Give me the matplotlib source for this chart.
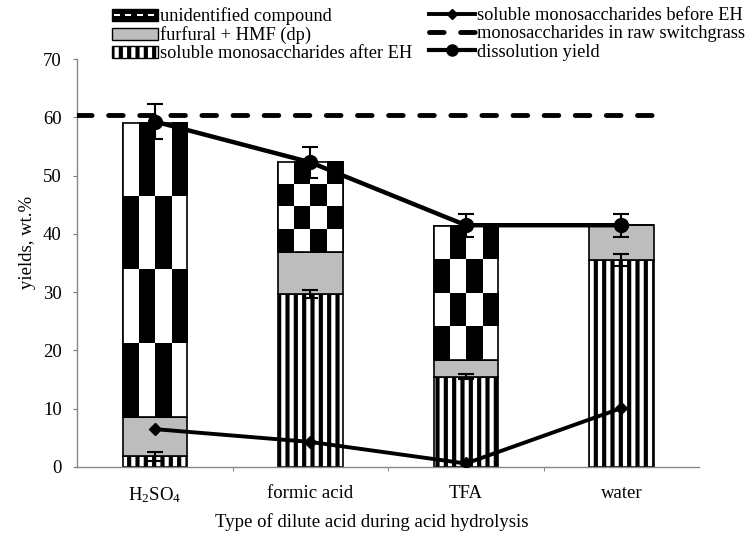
import matplotlib
matplotlib.use("Agg")
import matplotlib.pyplot as plt
import numpy as np
from matplotlib.patches import Patch, Rectangle
from matplotlib.lines import Line2D
from matplotlib.legend_handler import HandlerBase

plt.rcParams['font.family'] = ['Liberation Serif', 'DejaVu Serif']
plt.rcParams['mathtext.fontset'] = 'custom'
plt.rcParams['mathtext.rm'] = 'Liberation Serif'
plt.rcParams['mathtext.it'] = 'Liberation Serif:italic'
plt.rcParams['mathtext.default'] = 'regular'
plt.rcParams['hatch.linewidth'] = 3.0

# ---------------- data ----------------
categories = [r'H$_2$SO$_4$', 'formic acid', 'TFA', 'water']
sugars_after_EH = [1.8, 29.7, 15.5, 35.5]
sugars_after_EH_err = [0.8, 0.7, 0.4, 1.0]
furfural_hmf = [6.8, 7.2, 2.9, 6.0]
unidentified = [50.5, 15.5, 23.0, 0.0]
dissolution_yield = [59.3, 52.3, 41.5, 41.5]
dissolution_err = [3.0, 2.7, 2.0, 2.0]
sugars_before_EH = [6.5, 4.3, 0.6, 10.1]
raw_switchgrass = 60.5

yticks = [0, 10, 20, 30, 40, 50, 60, 70]

# ---------------- figure ----------------
fig = plt.figure(figsize=(7.55, 5.38), dpi=100)
ax = fig.add_axes([0.102, 0.132, 0.824, 0.758])

x = np.arange(len(categories))
w = 0.415
after = np.array(sugars_after_EH)
furf = np.array(furfural_hmf)
unid = np.array(unidentified)

ax.bar(x, after, w, color='white', edgecolor='black', hatch='||', linewidth=1.2, zorder=2)
ax.bar(x, furf, w, bottom=after, color='#bdbdbd', edgecolor='black', linewidth=1.2, zorder=2)
b3 = ax.bar(x, unid, w, bottom=after + furf, color='white', edgecolor='black', linewidth=1.2, zorder=2)

# checkerboard pattern inside the "unidentified" segments
checker = (np.indices((4, 4)).sum(axis=0) % 2 == 0).astype(float)
for rect in b3:
    h = rect.get_height()
    if h <= 0:
        continue
    x0 = rect.get_x()
    y0 = rect.get_y()
    ax.imshow(checker, cmap='gray', vmin=0, vmax=1,
              extent=[x0, x0 + rect.get_width(), y0, y0 + h],
              aspect='auto', interpolation='nearest', zorder=2.5)
    ax.add_patch(Rectangle((x0, y0), rect.get_width(), h, fill=False,
                           edgecolor='black', linewidth=1.2, zorder=2.6))

# error bars on sugars after EH
ax.errorbar(x, after, yerr=sugars_after_EH_err, fmt='none', ecolor='black',
            elinewidth=1.5, capsize=6, capthick=1.5, zorder=4)

# dissolution yield line
ax.errorbar(x, dissolution_yield, yerr=dissolution_err, fmt='-o', color='black',
            lw=3.2, ms=10, elinewidth=1.5, capsize=6, capthick=1.5, zorder=5)

# sugars before EH
ax.plot(x, sugars_before_EH, '-D', color='black', lw=2.8, ms=6.5, zorder=5)

# raw switchgrass monosaccharides
ax.plot([-0.5, 3.22], [raw_switchgrass, raw_switchgrass], color='black',
        lw=3.5, dashes=(3.0, 3.4), dash_capstyle='round', zorder=5)

ax.set_xlim(-0.5, 3.5)
ax.set_ylim(0, 70)
ax.set_yticks(yticks)
ax.set_xticks(x)
ax.set_xticklabels(categories, fontsize=13.5)
ax.set_xticks([0.5, 1.5, 2.5], minor=True)
ax.tick_params(axis='x', which='major', length=0, pad=13)
ax.tick_params(axis='x', which='minor', length=3, color='#777777')
ax.tick_params(axis='y', length=3, color='#777777', labelsize=13.5, pad=8)
for s in ['top', 'right']:
    ax.spines[s].set_visible(False)
for s in ['left', 'bottom']:
    ax.spines[s].set_color('#888888')
    ax.spines[s].set_linewidth(1.0)

ax.set_ylabel('yields, wt.%', fontsize=13.5)
ax.yaxis.set_label_coords(-0.066, 0.55)
ax.set_xlabel('Type of dilute acid during acid hydrolysis', fontsize=13.5)
ax.xaxis.set_label_coords(0.473, -0.113)


# ---------------- legends ----------------
class CheckerHandler(HandlerBase):
    def create_artists(self, legend, orig_handle, xdescent, ydescent, width, height, fontsize, trans):
        arts = [Rectangle((-xdescent, -ydescent), width, height, facecolor='black',
                          edgecolor='black', lw=1, transform=trans)]
        n = 4
        for i in range(n):
            xx = -xdescent + width * (i + 0.15) / n
            arts.append(Rectangle((xx, -ydescent + height * 0.4), width * 0.5 / n, height * 0.2,
                                  facecolor='white', edgecolor='none', transform=trans))
        return arts


h_unid = Patch(facecolor='black', edgecolor='black', label='unidentified compound')
h_furf = Patch(facecolor='#bdbdbd', edgecolor='black', label='furfural + HMF (dp)')
h_after = Patch(facecolor='white', edgecolor='black', hatch='||', label='soluble monosaccharides after EH')

fig.legend(handles=[h_unid, h_furf, h_after],
           handler_map={h_unid: CheckerHandler()},
           loc='upper left', bbox_to_anchor=(0.139, 1.0), frameon=False,
           fontsize=13.2, handlelength=2.5, handleheight=0.6,
           handletextpad=0.12, labelspacing=0.06, borderaxespad=0.1, borderpad=0.3)

h_before = Line2D([], [], color='black', lw=2.8, marker='D', ms=5, label='soluble monosaccharides before EH')
h_raw = Line2D([], [], color='black', lw=3.5, dashes=(3.0, 3.4), dash_capstyle='round',
               label='monosaccharides in raw switchgrass')
h_diss = Line2D([], [], color='black', lw=3.0, marker='o', ms=8, label='dissolution yield')
fig.legend(handles=[h_before, h_raw, h_diss],
           loc='upper left', bbox_to_anchor=(0.559, 1.0), frameon=False,
           fontsize=13.2, handlelength=2.5, handletextpad=0.12,
           labelspacing=0.06, borderaxespad=0.1, borderpad=0.3)

fig.savefig('out.png', dpi=100)
